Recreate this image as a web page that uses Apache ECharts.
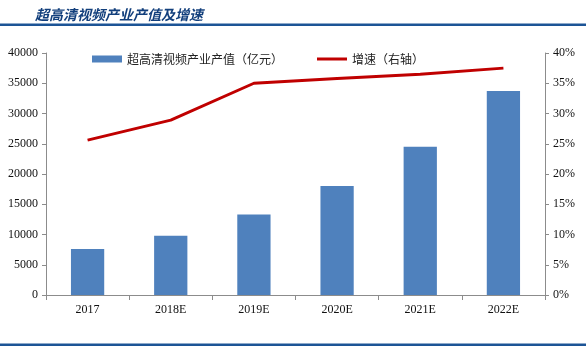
<!DOCTYPE html>
<html>
<head>
<meta charset="utf-8">
<script src="https://cdn.jsdelivr.net/npm/echarts@6/dist/echarts.min.js"></script>
<style>
  html, body { margin: 0; padding: 0; background: #fff; }
  #chart { width: 586px; height: 350px; }
</style>
</head>
<body>
<div id="chart"></div>
<script>
// Categories and series values
const years = ['2017', '2018E', '2019E', '2020E', '2021E', '2022E'];
const outputValue = [7600, 9800, 13300, 18000, 24500, 33700];   // 亿元
const growthRate = [25.6, 28.9, 35.0, 35.8, 36.5, 37.5];        // %

const serif = '"Liberation Serif", "Times New Roman", serif';
const cjk = '"Noto Sans CJK SC", sans-serif';
const axisGray = '#8c8c8c';

const chart = echarts.init(document.getElementById('chart'), null, { renderer: 'canvas' });

chart.setOption({
  animation: false,
  title: {
    text: '超高清视频产业产值及增速',
    left: 30,
    top: 3,
    textStyle: { fontFamily: cjk, fontSize: 14, fontWeight: 'bold', color: '#123f7c', fontStyle: 'italic' }
  },
  graphic: [
    { type: 'rect', shape: { x: 0, y: 23.5, width: 586, height: 2.5 }, style: { fill: '#1c5496' } },
    { type: 'rect', shape: { x: 0, y: 343.5, width: 586, height: 2.5 }, style: { fill: '#1c5496' } }
  ],
  legend: {
    top: 48,
    left: 87,
    itemGap: 34,
    itemWidth: 30,
    itemHeight: 7,
    textStyle: { fontFamily: cjk, fontSize: 12, color: '#222' },
    data: [
      { name: '超高清视频产业产值（亿元）', icon: 'rect' },
      { name: '增速（右轴）', icon: 'path://M0,0h30v3h-30z', itemStyle: { color: '#c00000' } }
    ]
  },
  grid: { left: 46, right: 41, top: 53, bottom: 55, containLabel: false },
  xAxis: {
    type: 'category',
    data: years,
    axisLine: { lineStyle: { color: axisGray, width: 1 } },
    axisTick: { show: true, alignWithLabel: false, length: 5, lineStyle: { color: axisGray } },
    axisLabel: { fontFamily: serif, fontSize: 12, color: '#111', margin: 9 }
  },
  yAxis: [
    {
      type: 'value',
      min: 0, max: 40000, interval: 5000,
      axisLine: { show: true, lineStyle: { color: axisGray } },
      axisTick: { show: true, length: 4, lineStyle: { color: axisGray } },
      splitLine: { show: false },
      axisLabel: { fontFamily: serif, fontSize: 12, color: '#111', margin: 8, formatter: (v) => String(v) }
    },
    {
      type: 'value',
      min: 0, max: 40, interval: 5,
      position: 'right',
      axisLine: { show: true, lineStyle: { color: axisGray } },
      axisTick: { show: true, length: 4, lineStyle: { color: axisGray } },
      splitLine: { show: false },
      axisLabel: { fontFamily: serif, fontSize: 12, color: '#111', margin: 8, formatter: '{value}%' }
    }
  ],
  series: [
    {
      name: '超高清视频产业产值（亿元）',
      type: 'bar',
      data: outputValue,
      barWidth: '40%',
      itemStyle: { color: '#4f81bd' }
    },
    {
      name: '增速（右轴）',
      type: 'line',
      yAxisIndex: 1,
      data: growthRate,
      symbol: 'none',
      lineStyle: { color: '#c00000', width: 3 },
      itemStyle: { color: '#c00000' }
    }
  ]
});
</script>
</body>
</html>
